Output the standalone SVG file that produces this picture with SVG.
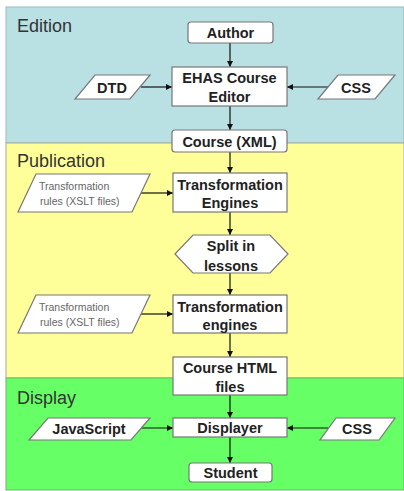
<svg xmlns="http://www.w3.org/2000/svg" width="404" height="491" viewBox="0 0 404 491">
<defs>
<marker id="ah" viewBox="0 0 8 8" refX="8" refY="4" markerWidth="6" markerHeight="6" markerUnits="userSpaceOnUse" orient="auto">
<path d="M0,0 L8,4 L0,8 z" fill="#111"/>
</marker>
<style>
.box{fill:#fff;stroke:#777;stroke-width:1.2}
.t{font-family:"Liberation Sans",Arial,sans-serif;font-weight:bold;font-size:14.5px;fill:#222;text-anchor:middle}
.s{font-family:"Liberation Sans",Arial,sans-serif;font-size:10.5px;fill:#666}
.lbl{font-family:"Liberation Sans",Arial,sans-serif;font-size:18px;fill:#333}
.c{stroke:#111;stroke-width:1.2;fill:none;marker-end:url(#ah)}
</style>
</defs>
<rect width="404" height="491" fill="#fff"/>
<g id="bands">
<rect x="6" y="7" width="398" height="136" fill="#b9e0e3" stroke="#9bb" stroke-width="1"/>
<rect x="6" y="143" width="398" height="235" fill="#ffff99" stroke="#aa9" stroke-width="1"/>
<rect x="6" y="378" width="398" height="112" fill="#66ff66" stroke="#6b6" stroke-width="1"/>
<text class="lbl" x="17" y="32">Edition</text>
<text class="lbl" x="17" y="167">Publication</text>
<text class="lbl" x="17" y="404">Display</text>
</g>
<g id="connectors">
<line class="c" x1="230" y1="43" x2="230" y2="67"/>
<line class="c" x1="141" y1="87" x2="172" y2="87"/>
<line class="c" x1="328" y1="87" x2="287" y2="87"/>
<line class="c" x1="230" y1="106" x2="230" y2="130"/>
<line class="c" x1="230" y1="152" x2="230" y2="173"/>
<line class="c" x1="141" y1="193" x2="173" y2="193"/>
<line class="c" x1="230" y1="212" x2="230" y2="235"/>
<line class="c" x1="230" y1="273" x2="230" y2="295"/>
<line class="c" x1="141" y1="314" x2="173" y2="314"/>
<line class="c" x1="230" y1="333" x2="230" y2="357"/>
<line class="c" x1="230" y1="395" x2="230" y2="418"/>
<line class="c" x1="140" y1="428" x2="173" y2="428"/>
<line class="c" x1="328" y1="428" x2="287" y2="428"/>
<line class="c" x1="230" y1="437" x2="230" y2="463"/>
</g>
<g id="author"><rect class="box" x="188" y="22" width="85" height="21" rx="3"/><text class="t" x="230.5" y="38">Author</text></g>
<g id="editor"><rect class="box" x="172" y="67" width="115" height="39"/><text class="t" x="229.5" y="83">EHAS Course</text><text class="t" x="229.5" y="102">Editor</text></g>
<g id="dtd"><polygon class="box" points="95,75 150,75 130,99 75,99"/><text class="t" x="112" y="93">DTD</text></g>
<g id="css1"><polygon class="box" points="338,75 395,75 375,99 318,99"/><text class="t" x="356" y="93">CSS</text></g>
<g id="course-xml"><rect class="box" x="172" y="130" width="115" height="22" rx="3"/><text class="t" x="229.5" y="147">Course (XML)</text></g>
<g id="rules1"><polygon class="box" points="36,174 150,174 132,212 18,212"/><text class="s" x="39" y="190">Transformation</text><text class="s" x="40" y="205">rules (XSLT files)</text></g>
<g id="te1"><rect class="box" x="173" y="173" width="114" height="39"/><text class="t" x="230" y="190">Transformation</text><text class="t" x="230" y="208">Engines</text></g>
<g id="split"><polygon class="box" points="175,254 193,235 270,235 288,254 270,273 193,273"/><text class="t" x="231" y="251">Split in</text><text class="t" x="231" y="271">lessons</text></g>
<g id="rules2"><polygon class="box" points="36,295 150,295 132,333 18,333"/><text class="s" x="39" y="311">Transformation</text><text class="s" x="40" y="326">rules (XSLT files)</text></g>
<g id="te2"><rect class="box" x="173" y="295" width="114" height="38"/><text class="t" x="230" y="312">Transformation</text><text class="t" x="230" y="330">engines</text></g>
<g id="html"><rect class="box" x="173" y="357" width="114" height="38"/><text class="t" x="230" y="373">Course HTML</text><text class="t" x="230" y="392">files</text></g>
<g id="js"><polygon class="box" points="48,418 150,418 131,440 29,440"/><text class="t" x="89" y="434">JavaScript</text></g>
<g id="displayer"><rect class="box" x="173" y="418" width="114" height="19"/><text class="t" x="230" y="433">Displayer</text></g>
<g id="css2"><polygon class="box" points="336,418 395,418 379,440 320,440"/><text class="t" x="357" y="434">CSS</text></g>
<g id="student"><rect class="box" x="189" y="463" width="83" height="19" rx="3"/><text class="t" x="230.5" y="478">Student</text></g>
</svg>
